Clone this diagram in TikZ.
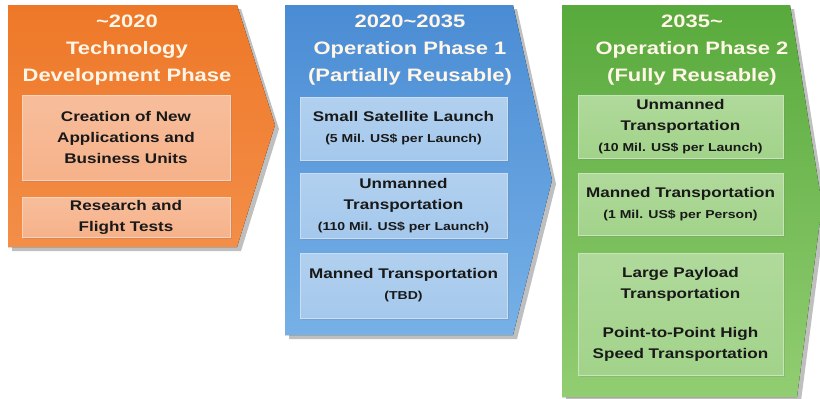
\documentclass[tikz,border=0pt]{standalone}
\usepackage{fontspec}
\setmainfont{Liberation Sans}[FakeStretch=1.22]
\usepackage{xcolor}
\usetikzlibrary{shadows,
	positioning}

\definecolor{orangetop}{RGB}{238,120,40}
\definecolor{orangebot}{RGB}{243,142,72}
\definecolor{orangeitem}{RGB}{246,178,138}
\definecolor{bluetop}{RGB}{74,140,212}
\definecolor{bluebot}{RGB}{118,176,230}
\definecolor{blueitem}{RGB}{164,200,236}
\definecolor{greentop}{RGB}{88,170,60}
\definecolor{greenbot}{RGB}{146,205,114}
\definecolor{greenitem}{RGB}{162,211,138}
\definecolor{headtext}{RGB}{255,246,232}

\newcommand{\costfont}{\fontsize{11.5}{15}\selectfont}

\tikzset{
	phase/.style={drop shadow={shadow xshift=4pt, shadow yshift=-4pt, opacity=0.5}},
	headline/.style={align=center, text=headtext, font=\fontsize{18}{27}\selectfont\bfseries},
	itembox/.style={align=center, inner sep=0pt, text=black!90,
		font=\fontsize{14}{21}\selectfont\bfseries,
		drop shadow={shadow xshift=1.5pt, shadow yshift=-1.5pt, opacity=0.25}},
	orangebox/.style={itembox, draw=orangeitem!60!white, top color=orangeitem!85!white, bottom color=orangeitem},
	bluebox/.style={itembox, draw=blueitem!60!white, top color=blueitem!85!white, bottom color=blueitem},
	greenbox/.style={itembox, draw=greenitem!60!white, top color=greenitem!85!white, bottom color=greenitem}
}

\begin{document}
\begin{tikzpicture}[x=1pt, y=-1pt]
	\useasboundingbox (0, 0) rectangle (820, 399);

	% technology development phase
	\fill[phase, top color=orangetop, bottom color=orangebot] (8, 5) -- (237, 5) -- (275, 125) -- (237, 247) -- (8, 247) -- cycle;
	\node[headline] (tech) at (127, 50) {\textasciitilde2020\\Technology\\Development Phase};
	\node[orangebox, minimum width=208, minimum height=85] (techapps) at (126, 137.5) {Creation of New\\Applications and\\Business Units};
	\node[orangebox, minimum width=208, minimum height=40] (techtests) at (126, 217) {Research and\\Flight Tests};

	% operation phase 1
	\fill[phase, top color=bluetop, bottom color=bluebot] (285, 5) -- (513, 5) -- (552, 180) -- (513, 335) -- (285, 335) -- cycle;
	\node[headline] (opone) at (410, 50) {2020\textasciitilde2035\\Operation Phase 1\\(Partially Reusable)};
	\node[bluebox, minimum width=207, minimum height=63] (opsat) at (403.5, 128.5) {Small Satellite Launch\\\costfont(5 Mil. US\$ per Launch)};
	\node[bluebox, minimum width=207, minimum height=65] (opunmanned) at (403.5, 205.5) {Unmanned\\Transportation\\\costfont(110 Mil. US\$ per Launch)};
	\node[bluebox, minimum width=207, minimum height=65] (opmanned) at (403.5, 285.5) {Manned Transportation\\\costfont(TBD)};

	% operation phase 2
	\fill[phase, top color=greentop, bottom color=greenbot] (562, 5) -- (790, 5) -- (822, 205) -- (797, 397) -- (562, 397) -- cycle;
	\node[headline] (optwo) at (692, 50) {2035\textasciitilde\\Operation Phase 2\\(Fully Reusable)};
	\node[greenbox, minimum width=205, minimum height=63] (twounmanned) at (680.5, 126.5) {Unmanned\\Transportation\\\costfont(10 Mil. US\$ per Launch)};
	\node[greenbox, minimum width=205, minimum height=62] (twomanned) at (680.5, 204) {Manned Transportation\\\costfont(1 Mil. US\$ per Person)};
	\node[greenbox, minimum width=205, minimum height=122] (twopayload) at (680.5, 314) {Large Payload\\Transportation\\[18pt]Point-to-Point High\\Speed Transportation};
\end{tikzpicture}
\end{document}
